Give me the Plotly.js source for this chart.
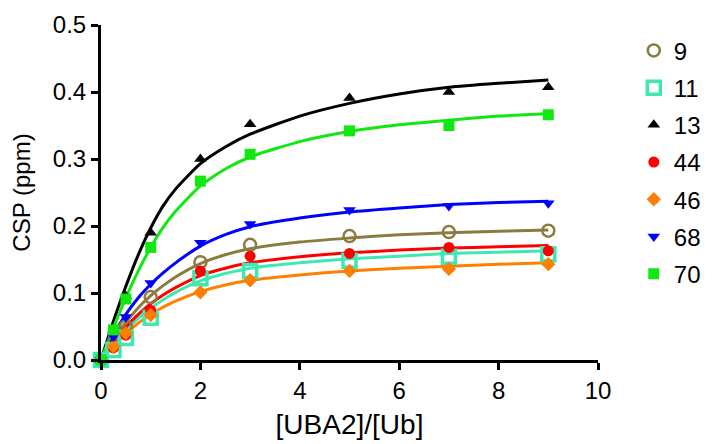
<!DOCTYPE html>
<html>
<head>
<meta charset="utf-8">
<script src="https://cdn.plot.ly/plotly-3.0.1.min.js"></script>
<style>
  html, body { margin: 0; padding: 0; background: #fff; }
  #chart { width: 721px; height: 444px; }
</style>
</head>
<body>
<div id="chart"></div>
<script>
// Titration points: [UBA2]/[Ub] ratios
const ratios = [0, 0.25, 0.5, 1, 2, 3, 5, 7, 9];
// Residue labels
const residues = ['9', '11', '13', '44', '46', '68', '70'];
const csp9  = [0, 0.025, 0.050, 0.094, 0.146, 0.172, 0.185, 0.191, 0.193];
const csp11 = [0, 0.015, 0.033, 0.063, 0.122, 0.133, 0.148, 0.154, 0.158];
const csp13 = [0, 0.045, 0.095, 0.190, 0.300, 0.352, 0.391, 0.400, 0.407];
const csp44 = [0, 0.018, 0.037, 0.074, 0.133, 0.155, 0.159, 0.168, 0.163];
const csp46 = [0, 0.020, 0.040, 0.067, 0.101, 0.119, 0.133, 0.136, 0.143];
const csp68 = [0, 0.035, 0.064, 0.115, 0.175, 0.203, 0.224, 0.230, 0.234];
const csp70 = [0, 0.045, 0.091, 0.168, 0.267, 0.307, 0.342, 0.350, 0.366];

// Fitted binding curves at these ratios
const fitRatios = [0, 0.25, 0.5, 0.75, 1, 1.25, 1.5, 2, 2.5, 3, 4, 5, 6, 7, 8, 9];
const fit9  = [0, 0.030, 0.056, 0.078, 0.096, 0.111, 0.124, 0.144, 0.157, 0.166, 0.176, 0.182, 0.187, 0.190, 0.192, 0.194];
const fit11 = [0, 0.023, 0.044, 0.062, 0.077, 0.090, 0.101, 0.118, 0.129, 0.137, 0.145, 0.151, 0.155, 0.159, 0.161, 0.163];
const fit13 = [0, 0.058, 0.110, 0.157, 0.197, 0.230, 0.255, 0.293, 0.318, 0.337, 0.364, 0.383, 0.397, 0.407, 0.413, 0.418];
const fit44 = [0, 0.026, 0.049, 0.068, 0.084, 0.097, 0.108, 0.126, 0.137, 0.145, 0.154, 0.160, 0.164, 0.167, 0.169, 0.171];
const fit46 = [0, 0.021, 0.039, 0.055, 0.068, 0.079, 0.088, 0.102, 0.112, 0.119, 0.127, 0.133, 0.137, 0.140, 0.143, 0.145];
const fit68 = [0, 0.037, 0.068, 0.093, 0.113, 0.130, 0.145, 0.170, 0.187, 0.199, 0.212, 0.221, 0.227, 0.232, 0.235, 0.237];
const fit70 = [0, 0.048, 0.093, 0.133, 0.168, 0.198, 0.222, 0.260, 0.285, 0.303, 0.326, 0.341, 0.351, 0.358, 0.364, 0.368];

const seriesData = [csp9, csp11, csp13, csp44, csp46, csp68, csp70];
const fitData = [fit9, fit11, fit13, fit44, fit46, fit68, fit70];
const colors = ['#8c7b3e', '#3fe8b0', '#000000', '#ff0000', '#ff8000', '#0000ff', '#11e811'];
const markers = [
  {symbol: 'circle-open', size: 12, line: {width: 2.5}},
  {symbol: 'square-open', size: 13, line: {width: 3.5}},
  {symbol: 'triangle-up', size: 11},
  {symbol: 'circle', size: 11},
  {symbol: 'diamond', size: 11},
  {symbol: 'triangle-down', size: 11},
  {symbol: 'square', size: 11}
];

const traces = [];
// fit lines first (under markers)
fitData.forEach((f, i) => {
  traces.push({
    x: fitRatios, y: f, type: 'scatter', mode: 'lines',
    line: {color: colors[i], width: 3, shape: 'spline', smoothing: 0.6},
    showlegend: false, hoverinfo: 'skip', cliponaxis: false
  });
});
seriesData.forEach((s, i) => {
  const m = Object.assign({color: colors[i]}, markers[i]);
  if (m.line) m.line = Object.assign({color: colors[i]}, m.line);
  traces.push({
    x: ratios, y: s, type: 'scatter', mode: 'markers',
    name: residues[i], legendgroup: 'g' + i,
    marker: m, cliponaxis: false
  });
});

const fontFam = '"Liberation Sans", Arial, sans-serif';
const layout = {
  width: 721, height: 444,
  margin: {l: 101, r: 123, t: 25, b: 84},
  paper_bgcolor: '#fff', plot_bgcolor: '#fff',
  font: {family: fontFam, color: '#000', size: 23},
  showlegend: true,
  legend: {
    x: 1.072, y: 0.99, xanchor: 'left', yanchor: 'top',
    font: {size: 24, color: '#000'}, tracegroupgap: 3,
    itemsizing: 'trace', bgcolor: 'rgba(0,0,0,0)'
  },
  xaxis: {
    range: [0, 10], tickvals: [0, 2, 4, 6, 8, 10],
    showgrid: false, zeroline: false,
    showline: true, linecolor: '#000', linewidth: 3,
    ticks: 'outside', ticklen: 7, tickwidth: 3, tickcolor: '#000',
    tickfont: {size: 24},
    title: {text: '[UBA2]/[Ub]', font: {size: 28}, standoff: 12}
  },
  yaxis: {
    range: [0, 0.5], tickvals: [0, 0.1, 0.2, 0.3, 0.4, 0.5], tickformat: '.1f',
    showgrid: false, zeroline: false,
    showline: true, linecolor: '#000', linewidth: 3,
    ticks: 'outside', ticklen: 7, tickwidth: 3, tickcolor: '#000',
    tickfont: {size: 24},
    title: {text: 'CSP (ppm)', font: {size: 24}, standoff: 16}
  }
};

Plotly.newPlot('chart', traces, layout, {displayModeBar: false, staticPlot: true});
</script>
</body>
</html>
